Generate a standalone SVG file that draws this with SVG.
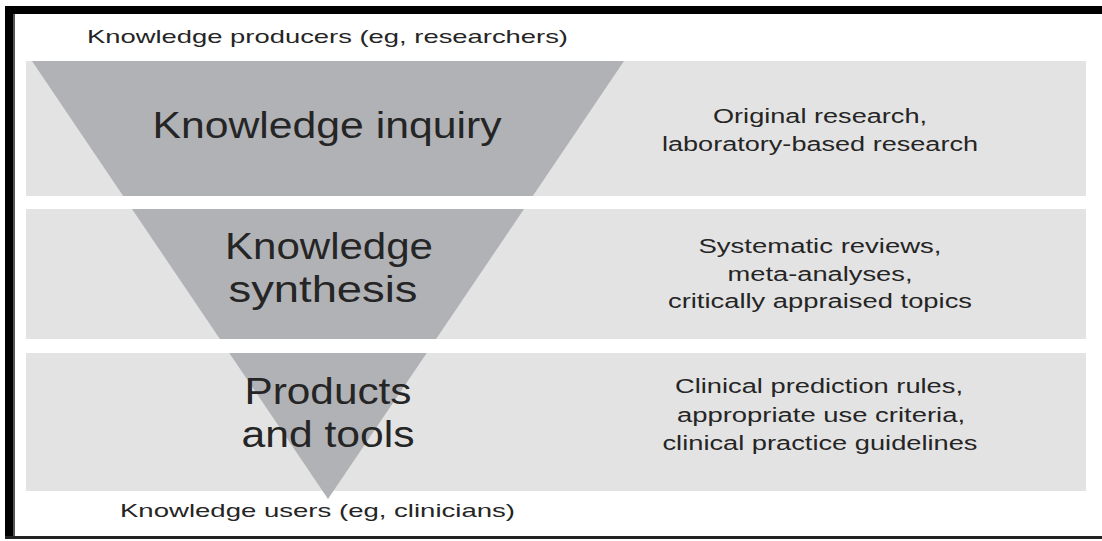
<svg xmlns="http://www.w3.org/2000/svg" width="1102" height="541" viewBox="0 0 1102 541">
<style>
.panel{fill:#e3e3e3}
.tri{fill:#b1b2b5}
.t{font-family:"Liberation Sans",Arial,sans-serif;fill:#252525}
.big{font-size:36px;text-anchor:middle}
.mid{font-size:20px;text-anchor:middle}
.edge{font-size:19px}
</style>
<rect x="0" y="0" width="1102" height="541" fill="#ffffff"/>
<g id="frame">
<rect x="5" y="6" width="1097" height="8" fill="#000"/>
<rect x="5" y="6" width="8" height="533" fill="#000"/>
<rect x="13" y="14" width="2" height="523" fill="#555"/>
<rect x="5" y="536" width="1097" height="3" fill="#222"/>
</g>
<g id="inquiry">
<rect class="panel" x="26" y="61" width="1060" height="135"/>
<polygon class="tri" points="32,61 624,61 532.8,196 123.2,196"/>
<text class="t big" x="327" y="138" textLength="349" lengthAdjust="spacingAndGlyphs">Knowledge inquiry</text>
<text class="t mid" x="820" y="123" textLength="214" lengthAdjust="spacingAndGlyphs">Original research,</text>
<text class="t mid" x="820" y="151" textLength="316" lengthAdjust="spacingAndGlyphs">laboratory-based research</text>
</g>
<g id="synthesis">
<rect class="panel" x="26" y="209" width="1060" height="130"/>
<polygon class="tri" points="132,209 524,209 436.1,339 219.9,339"/>
<text class="t big" x="329" y="259" textLength="208" lengthAdjust="spacingAndGlyphs">Knowledge</text>
<text class="t big" x="323" y="302" textLength="189" lengthAdjust="spacingAndGlyphs">synthesis</text>
<text class="t mid" x="820" y="253" textLength="243" lengthAdjust="spacingAndGlyphs">Systematic reviews,</text>
<text class="t mid" x="820" y="281" textLength="185" lengthAdjust="spacingAndGlyphs">meta-analyses,</text>
<text class="t mid" x="820" y="308" textLength="304" lengthAdjust="spacingAndGlyphs">critically appraised topics</text>
</g>
<g id="products">
<rect class="panel" x="26" y="353" width="1060" height="138"/>
<polygon class="tri" points="229.3,353 426.7,353 328,499"/>
<text class="t big" x="328" y="404" textLength="167" lengthAdjust="spacingAndGlyphs">Products</text>
<text class="t big" x="328" y="447" textLength="173" lengthAdjust="spacingAndGlyphs">and tools</text>
<text class="t mid" x="819" y="393" textLength="288" lengthAdjust="spacingAndGlyphs">Clinical prediction rules,</text>
<text class="t mid" x="821" y="422" textLength="288" lengthAdjust="spacingAndGlyphs">appropriate use criteria,</text>
<text class="t mid" x="820" y="450" textLength="315" lengthAdjust="spacingAndGlyphs">clinical practice guidelines</text>
</g>
<g id="producers">
<text class="t edge" x="87" y="43" textLength="481" lengthAdjust="spacingAndGlyphs">Knowledge producers (eg, researchers)</text>
</g>
<g id="users">
<text class="t edge" x="120" y="517" textLength="395" lengthAdjust="spacingAndGlyphs">Knowledge users (eg, clinicians)</text>
</g>
<g id="connectors"></g>
</svg>
